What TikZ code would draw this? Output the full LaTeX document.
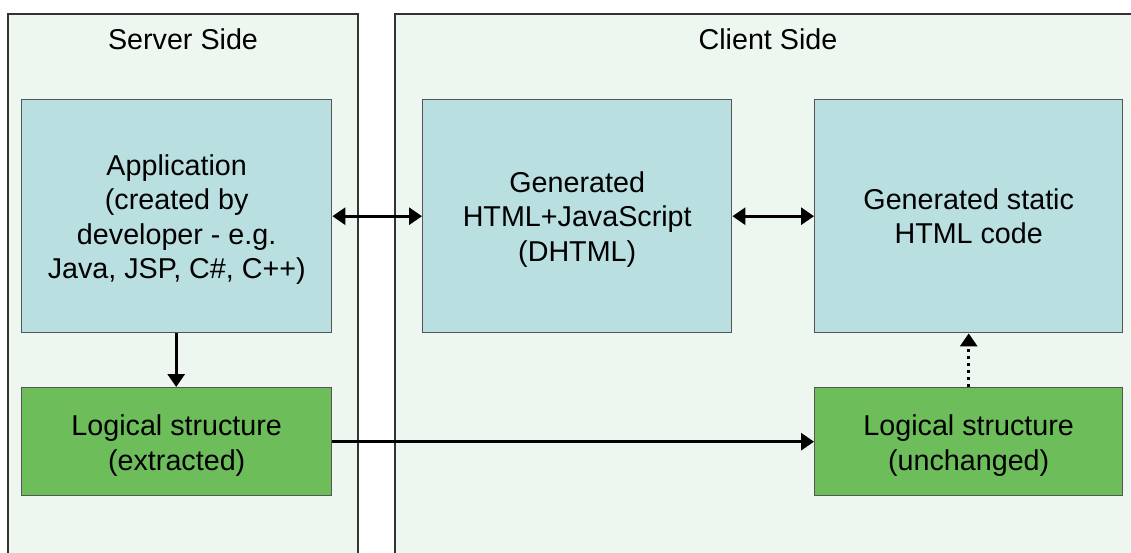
\documentclass[tikz,border=0pt]{standalone}
\usepackage{fontspec}
\setmainfont{Liberation Sans}
\usetikzlibrary{arrows.meta}
\definecolor{panelfill}{HTML}{EEF7EF}
\definecolor{panelline}{HTML}{333333}
\definecolor{bluefill}{HTML}{B9DFE1}
\definecolor{greenfill}{HTML}{6DBD5B}
\definecolor{boxline}{HTML}{555555}
\tikzset{
  panel/.style={draw=panelline, fill=panelfill, line width=1.6pt},
  bluebox/.style={draw=boxline, fill=bluefill, line width=1.4pt, align=center, anchor=north west, inner sep=0pt},
  greenbox/.style={draw=boxline, fill=greenfill, line width=1.4pt, align=center, anchor=north west, inner sep=0pt},
  boxtext/.style={align=center, inner sep=0pt},
  title/.style={font=\fontsize{28.7}{34.5}\selectfont},
  conn/.style={line width=3pt, -{Triangle[length=13pt,width=17pt]}},
  dconn/.style={line width=3pt, {Triangle[length=13pt,width=17pt]}-{Triangle[length=13pt,width=17pt]}},
  dotconn/.style={line width=3pt, dash pattern=on 3pt off 4pt, -{Triangle[length=13pt,width=17pt]}},
}
\begin{document}
\begin{tikzpicture}[x=1pt,y=-1pt, font=\fontsize{28.7}{34.5}\selectfont]
\useasboundingbox (0,0) rectangle (1131,553);
\begin{scope}
\clip (0,0) rectangle (1131,553);
\fill[white] (0,0) rectangle (1131,553);
\draw[panel] (8,14) rectangle (358,570);
\draw[panel] (395,14) rectangle (1150,570);
\end{scope}
\node[title] (st) at (183,39) {Server Side};
\node[title] (ct) at (768,39) {Client Side};
\node[bluebox, minimum width=310pt, minimum height=233pt] (app) at (21,99) {};
\node[bluebox, minimum width=309pt, minimum height=233pt] (dh) at (422,99) {};
\node[bluebox, minimum width=308pt, minimum height=233pt] (st2) at (814,99) {};
\node[greenbox, minimum width=310pt, minimum height=108pt] (ls1) at (21,387) {};
\node[greenbox, minimum width=308pt, minimum height=108pt] (ls2) at (814,387) {};
\node[boxtext] (appt) at ([yshift=-3.5pt]app.center) {Application\\(created by\\developer - e.g.\\Java, JSP, C\#, C++)};
\node[boxtext] (dht) at ([yshift=-3pt]dh.center) {Generated\\HTML+JavaScript\\(DHTML)};
\node[boxtext] (st2t) at (st2.center) {Generated static\\HTML code};
\node[boxtext] (ls1t) at ([yshift=-4pt]ls1.center) {Logical structure\\(extracted)};
\node[boxtext] (ls2t) at ([yshift=-4pt]ls2.center) {Logical structure\\(unchanged)};
\draw[dconn] (app.east) -- (dh.west);
\draw[dconn] (dh.east) -- (st2.west);
\draw[conn] ([xshift=-0.5pt]app.south) -- ([xshift=-0.5pt]ls1.north);
\draw[conn] (ls1.east) -- (ls2.west);
\draw[dotconn] (ls2.north) -- (st2.south);
\end{tikzpicture}
\end{document}
